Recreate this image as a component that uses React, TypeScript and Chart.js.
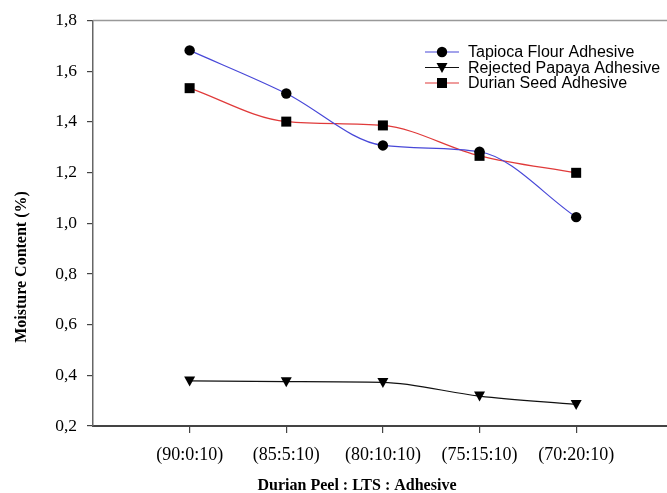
import React, { useEffect, useRef } from 'react';
import { Chart, registerables } from 'chart.js';

Chart.register(...registerables);

const categories = ['(90:0:10)', '(85:5:10)', '(80:10:10)', '(75:15:10)', '(70:20:10)'];
const tapioca = [1.682, 1.512, 1.307, 1.282, 1.024];
const papaya = [0.378, 0.375, 0.372, 0.318, 0.285];
const durian = [1.533, 1.401, 1.386, 1.266, 1.199];
const seriesNames = ['Tapioca Flour Adhesive', 'Rejected Papaya Adhesive', 'Durian Seed Adhesive'];
const yTitle = 'Moisture Content (%)';
const xTitle = 'Durian Peel : LTS : Adhesive';

const lineColors = ['#4848d8', '#111111', '#e03a3a'];
const markers = ['circle', 'triangleDown', 'square'];

function drawMarker(ctx: CanvasRenderingContext2D, kind: string, x: number, y: number) {
  ctx.save();
  ctx.fillStyle = '#000';
  ctx.beginPath();
  if (kind === 'circle') {
    ctx.arc(x, y, 5.2, 0, Math.PI * 2);
  } else if (kind === 'square') {
    ctx.rect(x - 5, y - 5, 10, 10);
  } else {
    ctx.moveTo(x - 5.5, y - 4.5);
    ctx.lineTo(x + 5.5, y - 4.5);
    ctx.lineTo(x, y + 5.5);
    ctx.closePath();
  }
  ctx.fill();
  ctx.restore();
}

const decorPlugin = {
  id: 'decor',
  afterDraw(chart: any) {
    const ctx: CanvasRenderingContext2D = chart.ctx;
    const { left, right, top } = chart.chartArea;
    ctx.save();
    // top frame line
    ctx.strokeStyle = '#999';
    ctx.lineWidth = 1.5;
    ctx.beginPath();
    ctx.moveTo(left, top);
    ctx.lineTo(right, top);
    ctx.stroke();

    // titles
    ctx.fillStyle = '#000';
    ctx.font = 'bold 16px "Liberation Serif", "Times New Roman", serif';
    ctx.textAlign = 'center';
    ctx.textBaseline = 'middle';
    ctx.fillText(xTitle, 357, 486);
    ctx.save();
    ctx.translate(22, 267);
    ctx.rotate(-Math.PI / 2);
    ctx.fillText(yTitle, 0, 0);
    ctx.restore();

    // legend
    const lx0 = 425, lx1 = 459, mx = 442, tx = 468;
    const rows = [52, 67.5, 83];
    ctx.font = '16px "Liberation Sans", Arial, sans-serif';
    ctx.textAlign = 'left';
    seriesNames.forEach((name, i) => {
      const y = rows[i];
      ctx.strokeStyle = lineColors[i];
      ctx.lineWidth = 1.2;
      ctx.beginPath();
      ctx.moveTo(lx0, y);
      ctx.lineTo(lx1, y);
      ctx.stroke();
      drawMarker(ctx, markers[i], mx, y);
      ctx.fillStyle = '#000';
      ctx.fillText(name, tx, y + 1);
    });
    ctx.restore();
  },
};

const markerPlugin = {
  id: 'markers',
  afterDatasetsDraw(chart: any) {
    const ctx: CanvasRenderingContext2D = chart.ctx;
    chart.data.datasets.forEach((ds: any, i: number) => {
      const meta = chart.getDatasetMeta(i);
      meta.data.forEach((pt: any) => drawMarker(ctx, markers[i], pt.x, pt.y));
    });
  },
};

export default function App() {
  const ref = useRef<HTMLCanvasElement | null>(null);
  useEffect(() => {
    if (!ref.current) return;
    const toPts = (arr: number[]) => arr.map((v, i) => ({ x: i, y: v }));
    const seriesData = [tapioca, papaya, durian];
    const chart = new Chart(ref.current, {
      type: 'line',
      data: {
        datasets: seriesData.map((arr, i) => ({
          label: seriesNames[i],
          data: toPts(arr),
          borderColor: lineColors[i],
          borderWidth: 1.2,
          pointRadius: 0,
          cubicInterpolationMode: 'monotone',
          fill: false,
        })),
      },
      options: {
        animation: false,
        responsive: false,
        maintainAspectRatio: false,
        layout: { padding: { top: 20, right: 0, left: 0, bottom: 0 } },
        plugins: { legend: { display: false }, tooltip: { enabled: false }, title: { display: false } },
        scales: {
          x: {
            type: 'linear',
            min: -1,
            max: 4.94,
            afterBuildTicks: (scale: any) => {
              scale.ticks = categories.map((_, i) => ({ value: i }));
            },
            afterFit: (scale: any) => {
              scale.height = 67;
            },
            ticks: {
              autoSkip: false,
              maxRotation: 0,
              padding: 11,
              color: '#000',
              font: { family: '"Liberation Serif", "Times New Roman", serif', size: 18 },
              callback: (v: any) => categories[v] ?? '',
            },
            grid: { display: true, drawOnChartArea: false, drawTicks: true, tickLength: 7, color: '#444', lineWidth: 1.2 },
            border: { display: true, color: '#444', width: 2 },
          },
          y: {
            min: 0.2,
            max: 1.8,
            afterBuildTicks: (scale: any) => {
              const t = [];
              for (let k = 0; k <= 8; k++) t.push({ value: 0.2 + k * 0.2 });
              scale.ticks = t;
            },
            afterFit: (scale: any) => {
              scale.width = 93;
            },
            ticks: {
              padding: 10,
              color: '#000',
              font: { family: '"Liberation Serif", "Times New Roman", serif', size: 17.5 },
              callback: (v: any) => Number(v).toFixed(1).replace('.', ','),
            },
            grid: { display: true, drawOnChartArea: false, drawTicks: true, tickLength: 6, color: '#444', lineWidth: 1.2 },
            border: { display: true, color: '#666', width: 1.5 },
          },
        },
      },
      plugins: [markerPlugin, decorPlugin],
    } as any);
    return () => chart.destroy();
  }, []);
  return (
    <div style={{ position: 'absolute', left: 0, top: 0, width: 667, height: 493, background: '#fff' }}>
      <canvas ref={ref} width={667} height={493} style={{ display: 'block' }} />
    </div>
  );
}
